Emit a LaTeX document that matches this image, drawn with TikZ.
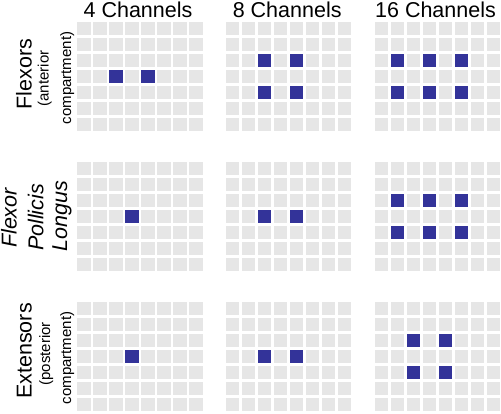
\documentclass[tikz,border=0pt]{standalone}
\usepackage{fontspec}
\setmainfont{Liberation Sans}
\usepackage{tikz}
\usetikzlibrary{positioning}
\definecolor{cellgray}{RGB}{230,230,230}
\definecolor{chanblue}{RGB}{51,51,153}
\tikzset{
  cell/.style={fill=cellgray},
  chan/.style={fill=chanblue},
  coltitle/.style={font=\fontsize{21.5}{24}\selectfont, anchor=base, inner sep=0pt},
  muscle/.style={font=\fontsize{21.5}{24}\selectfont, rotate=90, anchor=base, inner sep=0pt},
  subnote/.style={font=\fontsize{15}{18}\selectfont, rotate=90, anchor=base, inner sep=0pt}
}
\begin{document}
\begin{tikzpicture}[x=1pt, y=-1pt]
  \useasboundingbox (0,0) rectangle (501,413);

  % ── Electrode grids (8 x 7) ────────────────────────────────────────────────
  \foreach \gx in {77.3,226,374.7}
    \foreach \gy in {21.7,161.7,301.7}
      \foreach \i in {0,...,7}
        \foreach \j in {0,...,6}
          \fill[cell] (\gx+16*\i, \gy+16*\j) rectangle ++(13.3,13.3);

  % ── Flexors ────────────────────────────────────────────────────────────────
  \foreach \i/\j in {2/3,4/3}
    \fill[chan] (77.3+16*\i, 21.7+16*\j) rectangle ++(13.3,13.3);
  \foreach \i/\j in {2/2,4/2,2/4,4/4}
    \fill[chan] (226+16*\i, 21.7+16*\j) rectangle ++(13.3,13.3);
  \foreach \i/\j in {1/2,3/2,5/2,1/4,3/4,5/4}
    \fill[chan] (374.7+16*\i, 21.7+16*\j) rectangle ++(13.3,13.3);

  % ── Flexor Pollicis Longus ─────────────────────────────────────────────────
  \foreach \i/\j in {3/3}
    \fill[chan] (77.3+16*\i, 161.7+16*\j) rectangle ++(13.3,13.3);
  \foreach \i/\j in {2/3,4/3}
    \fill[chan] (226+16*\i, 161.7+16*\j) rectangle ++(13.3,13.3);
  \foreach \i/\j in {1/2,3/2,5/2,1/4,3/4,5/4}
    \fill[chan] (374.7+16*\i, 161.7+16*\j) rectangle ++(13.3,13.3);

  % ── Extensors ──────────────────────────────────────────────────────────────
  \foreach \i/\j in {3/3}
    \fill[chan] (77.3+16*\i, 301.7+16*\j) rectangle ++(13.3,13.3);
  \foreach \i/\j in {2/3,4/3}
    \fill[chan] (226+16*\i, 301.7+16*\j) rectangle ++(13.3,13.3);
  \foreach \i/\j in {2/2,4/2,2/4,4/4}
    \fill[chan] (374.7+16*\i, 301.7+16*\j) rectangle ++(13.3,13.3);

  % ── Column titles ──────────────────────────────────────────────────────────
  \node[coltitle] (ch4)  at (138,17.5)   {4 Channels};
  \node[coltitle] (ch8)  at (287.2,17.5) {8 Channels};
  \node[coltitle] (ch16) at (435.5,17.5) {16 Channels};

  % ── Row labels ─────────────────────────────────────────────────────────────
  \node[muscle]  (flex)    at (31.7,74)  {Flexors};
  \node[subnote] (flexa)   at (48.5,78.5) {(anterior};
  \node[subnote] (flexb)   at (71,78)    {compartment)};

  \node[muscle, font=\fontsize{21.5}{24}\selectfont\itshape] (fplA) at (16.7,218)  {Flexor};
  \node[muscle, font=\fontsize{21.5}{24}\selectfont\itshape] (fplB) at (43.3,217.5) {Pollicis};
  \node[muscle, font=\fontsize{21.5}{24}\selectfont\itshape] (fplC) at (67,216)    {Longus};

  \node[muscle]  (ext)     at (31.7,351)  {Extensors};
  \node[subnote] (exta)    at (50,353.7)  {(posterior};
  \node[subnote] (extb)    at (71,358)    {compartment)};
\end{tikzpicture}
\end{document}
